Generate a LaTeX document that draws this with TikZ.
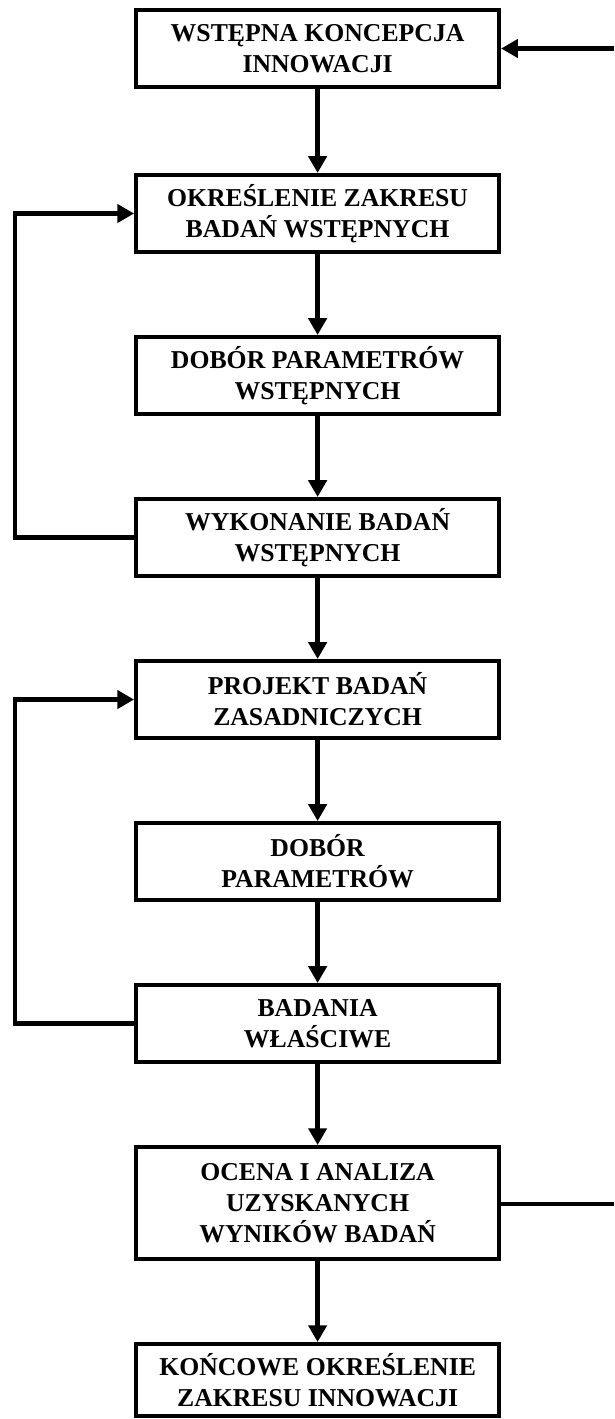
\documentclass[tikz,border=0pt]{standalone}
\usepackage{fontspec}
\setmainfont{Liberation Serif}
\usetikzlibrary{positioning,arrows.meta}

\begin{document}
\begin{tikzpicture}[
		node distance=2.025cm,
		every node/.style={
			align=center,
			font=\bfseries\fontsize{18.3}{22}\selectfont
		},
		box/.style={draw, line width=2.85pt, rectangle,
			minimum width=9.075cm, minimum height=1.925cm, inner sep=2pt},
		conn/.style={draw, line width=3pt},
		arrow/.style={conn, -{Triangle[length=4.2mm,width=4.5mm]}}
		]
		
		\useasboundingbox (0,0) rectangle (15.35,-35.475);
		
		\node[box] (koncepcja) at (7.94,-1.2125) {WSTĘPNA KONCEPCJA\\INNOWACJI};
		\node[box, below=2.1cm of koncepcja] (zakres) {OKREŚLENIE ZAKRESU\\BADAŃ WSTĘPNYCH};
		\node[box, below=of zakres] (dobor) {DOBÓR PARAMETRÓW\\WSTĘPNYCH};
		\node[box, below=of dobor] (wykonanie) {WYKONANIE BADAŃ\\WSTĘPNYCH};
		\node[box, below=of wykonanie] (projekt) {PROJEKT BADAŃ\\ZASADNICZYCH};
		\node[box, below=of projekt] (parametry) {DOBÓR\\PARAMETRÓW};
		\node[box, below=of parametry] (badania) {BADANIA\\WŁAŚCIWE};
		\node[box, below=of badania, minimum height=2.8cm] (ocena) {OCENA I ANALIZA\\UZYSKANYCH\\WYNIKÓW BADAŃ};
		\node[box, below=of ocena, minimum height=1.8cm] (koniec) {KOŃCOWE OKREŚLENIE\\ZAKRESU INNOWACJI};
		
		% main flow
		\draw[arrow] (koncepcja) -- (zakres);
		\draw[arrow] (zakres) -- (dobor);
		\draw[arrow] (dobor) -- (wykonanie);
		\draw[arrow] (wykonanie) -- (projekt);
		\draw[arrow] (projekt) -- (parametry);
		\draw[arrow] (parametry) -- (badania);
		\draw[arrow] (badania) -- (ocena);
		\draw[arrow] (ocena) -- (koniec);
		
		% feedback loops
		\coordinate (lewo) at (0.375,0);
		\draw[arrow] (wykonanie.west) -- (wykonanie.west -| lewo) |- (zakres.west);
		\draw[arrow] (badania.west) -- (badania.west -| lewo) |- (projekt.west);
		
		\coordinate (prawoD) at (15.35,-30.1);
		\coordinate (prawoG) at (15.35,-1.2125);
		\draw[conn] (ocena.east |- prawoD) -- (prawoD);
		\draw[arrow] (prawoG) -- (koncepcja.east);
	\end{tikzpicture}
\end{document}
